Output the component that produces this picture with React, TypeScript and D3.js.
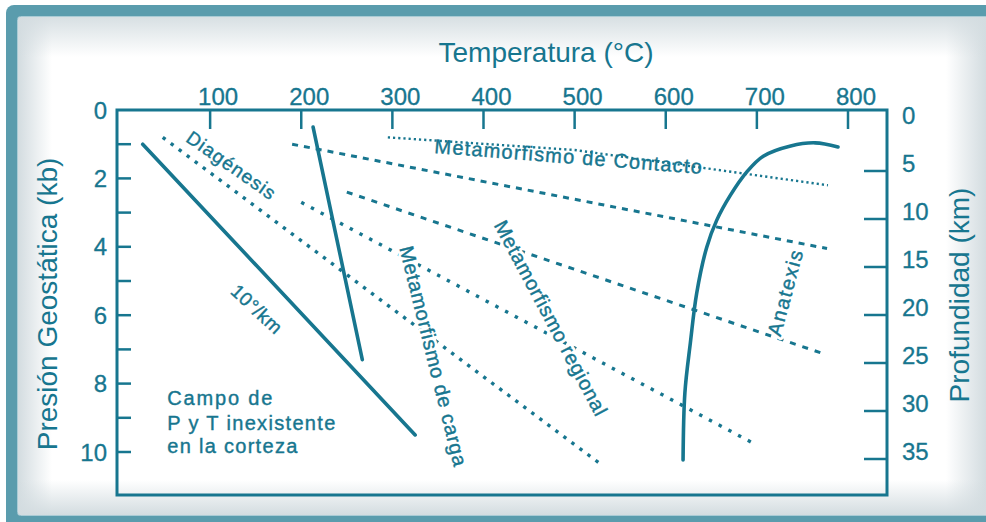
import React from "react";
import * as d3 from "d3";

// ---- Data (temperature °C, pressure kb) ----
const TEMP_TICKS = [100, 200, 300, 400, 500, 600, 700, 800];
const PRESSURE_TICKS = [1, 2, 3, 4, 5, 6, 7, 8, 9, 10];
const PRESSURE_LABELS = [0, 2, 4, 6, 8, 10];
const DEPTH_TICKS = [5, 10, 15, 20, 25, 30, 35];
const DEPTH_LABELS = [0, 5, 10, 15, 20, 25, 30, 35];

const gradient10 = [
  { t: 26, p: 1.0 },
  { t: 325, p: 9.5 },
];
const steepLine = [
  { t: 213, p: 0.5 },
  { t: 267, p: 7.3 },
];
const contactLine = [
  { t: 295, p: 0.8 },
  { t: 500, p: 1.17 },
  { t: 778, p: 2.2 },
];
const dashedUpper = [
  { t: 190, p: 1.0 },
  { t: 777, p: 4.05 },
];
const dashedLower = [
  { t: 250, p: 2.4 },
  { t: 770, p: 7.1 },
];
const dottedRegional = [
  { t: 200, p: 2.7 },
  { t: 700, p: 9.8 },
];
const dottedDiagenesis = [
  { t: 48, p: 0.8 },
  { t: 531, p: 10.4 },
];
const anatexis = [
  { t: 789, p: 1.08 },
  { t: 764, p: 0.96 },
  { t: 737, p: 1.05 },
  { t: 707, p: 1.35 },
  { t: 689, p: 1.81 },
  { t: 671, p: 2.49 },
  { t: 656, p: 3.22 },
  { t: 645, p: 4.01 },
  { t: 634, p: 5.35 },
  { t: 627, p: 6.81 },
  { t: 621, p: 8.27 },
  { t: 619, p: 10.23 },
];

const TEAL = "#17768f";
const FRAME = "#5a9cad";
const EDGE = "#d3dce0";
const FONT = "'Liberation Sans', Arial, Helvetica, sans-serif";

export default function App() {
  const W = 986;
  const H = 522;
  const x = d3.scaleLinear().domain([0, 800]).range([119, 848]);
  const y = d3.scaleLinear().domain([0, 10]).range([110, 452]);
  const km = d3.scaleLinear().domain([5, 35]).range([171, 459]);

  const box = { x0: 117, x1: 887, y0: 110, y1: 495 };

  const line = d3
    .line<{ t: number; p: number }>()
    .x((d) => x(d.t))
    .y((d) => y(d.p));
  const curve = d3
    .line<{ t: number; p: number }>()
    .x((d) => x(d.t))
    .y((d) => y(d.p))
    .curve(d3.curveCatmullRom.alpha(0.5));

  const label = (
    key: string,
    text: string,
    t: number,
    p: number,
    angle: number,
    size: number,
    len?: number,
    halo = true
  ) => {
    const cx = x(t);
    const cy = y(p);
    const common = {
      x: cx,
      y: cy,
      dy: "0.35em",
      textAnchor: "middle" as const,
      fontSize: size,
      fontFamily: FONT,
      transform: `rotate(${angle} ${cx} ${cy})`,
      ...(len ? { textLength: len, lengthAdjust: "spacing" } : {}),
    };
    return (
      <g key={key}>
        {halo && (
          <text {...common} fill="#fff" stroke="#fff" strokeWidth={6} strokeLinejoin="round">
            {text}
          </text>
        )}
        <text {...common} fill={TEAL} stroke={TEAL} strokeWidth={0.4}>
          {text}
        </text>
      </g>
    );
  };

  return (
    <svg
      width={W}
      height={H}
      viewBox={`0 0 ${W} ${H}`}
      style={{ position: "absolute", left: 0, top: 0, overflow: "hidden", background: "#fff" }}
    >
      <defs>
        <linearGradient id="gl" x1="0" x2="1" y1="0" y2="0">
          <stop offset="0" stopColor={EDGE} stopOpacity={1} />
          <stop offset="1" stopColor={EDGE} stopOpacity={0} />
        </linearGradient>
        <linearGradient id="gr" x1="1" x2="0" y1="0" y2="0">
          <stop offset="0" stopColor={EDGE} stopOpacity={1} />
          <stop offset="1" stopColor={EDGE} stopOpacity={0} />
        </linearGradient>
        <linearGradient id="gt" x1="0" x2="0" y1="0" y2="1">
          <stop offset="0" stopColor={EDGE} stopOpacity={0.9} />
          <stop offset="1" stopColor={EDGE} stopOpacity={0} />
        </linearGradient>
        <linearGradient id="gb" x1="0" x2="0" y1="1" y2="0">
          <stop offset="0" stopColor={EDGE} stopOpacity={1} />
          <stop offset="1" stopColor={EDGE} stopOpacity={0} />
        </linearGradient>
      </defs>
      {/* frame */}
      <rect x={6} y={5} width={W + 20} height={H + 20} rx={8} fill={FRAME} />
      <rect x={18} y={17} width={W - 18} height={498} rx={3} fill="#ffffff" />
      <rect x={18} y={17} width={34} height={498} fill="url(#gl)" />
      <rect x={W - 40} y={17} width={40} height={498} fill="url(#gr)" />
      <rect x={18} y={17} width={W - 18} height={40} fill="url(#gt)" />
      <rect x={18} y={480} width={W - 18} height={35} fill="url(#gb)" />
      <rect x={17.5} y={16.5} width={W} height={499} rx={3} fill="none" stroke="#a9cbd5" strokeWidth={1} />

      {/* plot box */}
      <rect
        x={box.x0}
        y={box.y0}
        width={box.x1 - box.x0}
        height={box.y1 - box.y0}
        fill="none"
        stroke={TEAL}
        strokeWidth={3}
      />

      {/* top ticks */}
      {TEMP_TICKS.map((t) => (
        <g key={"tt" + t}>
          <line x1={x(t)} x2={x(t)} y1={box.y0} y2={box.y0 + 19} stroke={TEAL} strokeWidth={2.5} />
          <text
            x={x(t) + 8}
            y={105}
            textAnchor="middle"
            fontSize={24}
            fontFamily={FONT}
            fill={TEAL}
            stroke={TEAL}
            strokeWidth={0.3}
          >
            {t}
          </text>
        </g>
      ))}

      {/* left ticks */}
      {PRESSURE_TICKS.map((p) => (
        <line key={"pt" + p} x1={box.x0} x2={box.x0 + 14} y1={y(p)} y2={y(p)} stroke={TEAL} strokeWidth={2.5} />
      ))}
      {PRESSURE_LABELS.map((p) => (
        <text
          key={"pl" + p}
          x={107}
          y={y(p)}
          dy="0.36em"
          textAnchor="end"
          fontSize={24}
          fontFamily={FONT}
          fill={TEAL}
          stroke={TEAL}
          strokeWidth={0.3}
        >
          {p}
        </text>
      ))}

      {/* right ticks */}
      {DEPTH_TICKS.map((d) => (
        <line key={"dt" + d} x1={box.x1 - 23} x2={box.x1} y1={km(d)} y2={km(d)} stroke={TEAL} strokeWidth={2.5} />
      ))}
      {DEPTH_LABELS.map((d) => (
        <text
          key={"dl" + d}
          x={902}
          y={km(d) - 8}
          dy="0.36em"
          textAnchor="start"
          fontSize={24}
          fontFamily={FONT}
          fill={TEAL}
          stroke={TEAL}
          strokeWidth={0.3}
        >
          {d}
        </text>
      ))}

      {/* axis titles */}
      <text x={546} y={62} textAnchor="middle" fontSize={28} fontFamily={FONT} fill={TEAL}>
        Temperatura (°C)
      </text>
      <text
        x={57}
        y={304}
        textAnchor="middle"
        fontSize={28}
        fontFamily={FONT}
        fill={TEAL}
        transform="rotate(-90 57 304)"
      >
        Presión Geostática (kb)
      </text>
      <text
        x={969}
        y={295}
        textAnchor="middle"
        fontSize={28}
        fontFamily={FONT}
        fill={TEAL}
        transform="rotate(-90 969 295)"
      >
        Profundidad (km)
      </text>

      {/* series */}
      <path d={line(contactLine) || ""} fill="none" stroke={TEAL} strokeWidth={2.4} strokeDasharray="2.2 3" />
      <path d={line(dashedUpper) || ""} fill="none" stroke={TEAL} strokeWidth={3} strokeDasharray="6 6" />
      <path d={line(dashedLower) || ""} fill="none" stroke={TEAL} strokeWidth={3} strokeDasharray="6 7" />
      <path d={line(dottedRegional) || ""} fill="none" stroke={TEAL} strokeWidth={3.4} strokeDasharray="3.4 7.6" />
      <path d={line(dottedDiagenesis) || ""} fill="none" stroke={TEAL} strokeWidth={3.4} strokeDasharray="3.4 6.6" />

      {/* labels (with white halo gaps) */}
      {label("diag", "Diagénesis", 123, 1.61, 35, 19, 104)}
      {label("cont", "Metamorfismo de Contacto", 493, 1.36, 4.5, 20, 268, false)}
      {label("carga", "Metamorfismo de carga", 345, 7.19, 76, 20, 226)}
      {label("reg", "Metamorfismo regional", 474, 6.08, 62, 20, 218)}
      {label("ana", "Anatexis", 731, 5.35, -75, 20, 88)}
      {label("grad", "10°/km", 151, 5.82, 43, 19, 62)}

      <path d={line(gradient10) || ""} fill="none" stroke={TEAL} strokeWidth={3.6} strokeLinecap="round" />
      <path d={line(steepLine) || ""} fill="none" stroke={TEAL} strokeWidth={3.6} strokeLinecap="round" />
      <path d={curve(anatexis) || ""} fill="none" stroke={TEAL} strokeWidth={3.6} strokeLinecap="round" />

      {/* field label */}
      <g fontFamily={FONT} fontSize={20} fill={TEAL} stroke={TEAL} strokeWidth={0.4}>
        <text x={x(53)} y={405} textLength={105} lengthAdjust="spacing">
          Campo de
        </text>
        <text x={x(53)} y={430} textLength={168} lengthAdjust="spacing">
          P y T inexistente
        </text>
        <text x={x(53)} y={453} textLength={130} lengthAdjust="spacing">
          en la corteza
        </text>
      </g>
    </svg>
  );
}
